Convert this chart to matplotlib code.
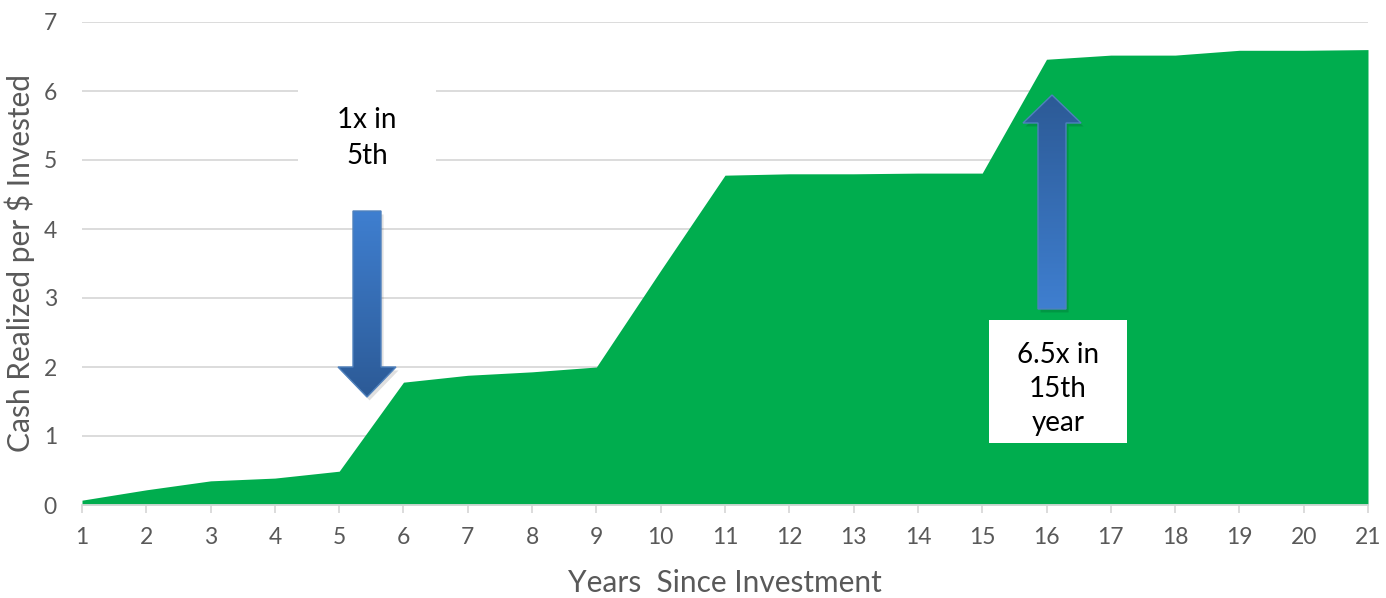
import numpy as np
import matplotlib
matplotlib.use("Agg")
import matplotlib.pyplot as plt
from matplotlib.patches import Polygon, Rectangle

plt.rcParams['font.family'] = ['Lato', 'DejaVu Sans']

years = list(range(1, 22))
cash_multiple = [0.07, 0.22, 0.35, 0.39, 0.49, 1.78, 1.88, 1.93, 2.00, 3.40,
                 4.78, 4.80, 4.80, 4.81, 4.81, 6.46, 6.52, 6.52, 6.59, 6.59, 6.60]
y_ticks = [0, 1, 2, 3, 4, 5, 6, 7]

W, H = 1386, 598
fig = plt.figure(figsize=(W / 100, H / 100), dpi=100)
ax = fig.add_axes([82 / W, 93 / H, (1368 - 82) / W, (505 - 22) / H])

grid_color = '#d9d9d9'
label_color = '#595959'

ax.fill_between(years, cash_multiple, 0, color='#00ad4e', linewidth=0, zorder=2)
ax.set_xlim(1, 21)
ax.set_ylim(0, 7)
ax.set_xticks(years)
ax.set_yticks(y_ticks)
ax.yaxis.grid(True, color=grid_color, linewidth=1.3, zorder=0)
ax.set_axisbelow(True)
for s in ['top', 'right', 'left']:
    ax.spines[s].set_visible(False)
ax.spines['bottom'].set_color(grid_color)
ax.spines['bottom'].set_linewidth(1.3)
ax.spines['bottom'].set_zorder(3)
ax.tick_params(axis='x', colors=label_color, labelsize=16.5, length=6,
               width=1.3, color=grid_color, pad=10)
ax.tick_params(axis='y', colors=label_color, labelsize=16.5, length=0, pad=18)
ax.set_xlabel('Years  Since Investment', fontsize=21.5, color=label_color, labelpad=15)
ax.set_ylabel('Cash Realized per $ Invested', fontsize=21.5, color=label_color, labelpad=6)


def gradient_arrow(ax, xc, y_tail, y_tip, shaft_w, head_w, head_len, c_tail, c_tip):
    """Block arrow in data coords with a vertical colour gradient."""
    sgn = 1 if y_tip > y_tail else -1
    y_head = y_tip - sgn * head_len
    pts = [(xc - shaft_w / 2, y_tail), (xc + shaft_w / 2, y_tail),
           (xc + shaft_w / 2, y_head), (xc + head_w / 2, y_head),
           (xc, y_tip), (xc - head_w / 2, y_head), (xc - shaft_w / 2, y_head)]
    # soft shadow
    shadow = Polygon([(x + 0.04, y - 0.05) for x, y in pts], closed=True,
                     facecolor='black', alpha=0.12, edgecolor='none', zorder=4)
    ax.add_patch(shadow)
    poly = Polygon(pts, closed=True, facecolor='none', edgecolor='#4f81bd',
                   linewidth=1.0, zorder=6)
    ax.add_patch(poly)
    n = 256
    t = np.linspace(0, 1, n)[:, None]
    c0 = np.array(matplotlib.colors.to_rgb(c_tail))
    c1 = np.array(matplotlib.colors.to_rgb(c_tip))
    lo, hi = min(y_tail, y_tip), max(y_tail, y_tip)
    if y_tip > y_tail:
        cols = c0 + (c1 - c0) * t
    else:
        cols = c1 + (c0 - c1) * t
    img = np.repeat(cols[:, None, :], 2, axis=1)
    im = ax.imshow(img, extent=[xc - head_w / 2, xc + head_w / 2, lo, hi],
                   origin='lower', aspect='auto', zorder=5, interpolation='bilinear')
    im.set_clip_path(poly)
    ax.set_xlim(1, 21)
    ax.set_ylim(0, 7)


px_x = 20 / (1368 - 82)
px_y = 7 / (505 - 22)

# box behind the first annotation hides the gridlines
ax.add_patch(Rectangle((1 + (298 - 82) * px_x, (505 - 200) * px_y),
                       (436 - 298) * px_x, 125 * px_y,
                       facecolor='white', edgecolor='none', zorder=1.5))
ax.text(1 + (367 - 82) * px_x, (505 - 138) * px_y, '1x in\n5th', ha='center',
        va='center', fontsize=20, color='black', linespacing=1.45, zorder=7)

gradient_arrow(ax, 1 + (367 - 82) * px_x, (505 - 211) * px_y, (505 - 397) * px_y,
               28 * px_x, 58 * px_x, 30 * px_y, '#3f7fd0', '#2c5a96')

gradient_arrow(ax, 1 + (1052 - 82) * px_x, (505 - 309) * px_y, (505 - 95) * px_y,
               28 * px_x, 58 * px_x, 28 * px_y, '#3f7fd0', '#2c5a96')

ax.add_patch(Rectangle((1 + (989 - 82) * px_x, (505 - 443) * px_y),
                       (1127 - 989) * px_x, (443 - 320) * px_y,
                       facecolor='white', edgecolor='none', zorder=7))
ax.text(1 + (1058 - 82) * px_x, (505 - 389) * px_y, '6.5x in\n15th\nyear', ha='center',
        va='center', fontsize=20, color='black', linespacing=1.4, zorder=8)

fig.savefig('out.png', dpi=100)
